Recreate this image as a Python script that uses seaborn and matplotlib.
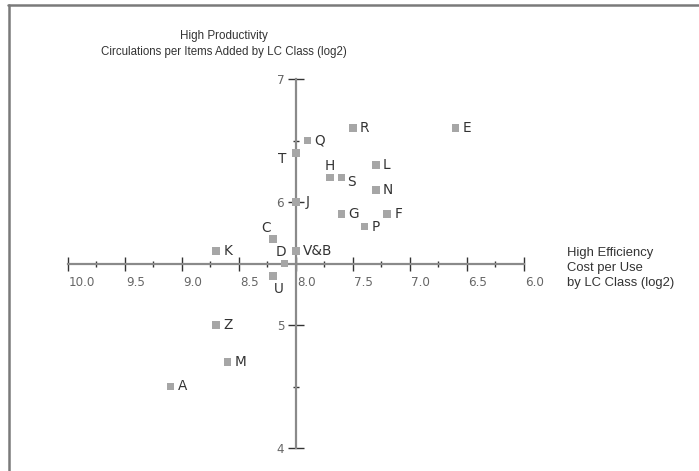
import matplotlib
matplotlib.use("Agg")
import matplotlib.pyplot as plt
import matplotlib.transforms as mtransforms
from matplotlib.lines import Line2D
from matplotlib.ticker import FixedLocator
import seaborn as sns
import pandas as pd

# ---- data ----
classes = ["E", "R", "Q", "T", "H", "S", "L", "N", "J", "G",
           "F", "P", "C", "K", "V&B", "D", "U", "Z", "M", "A"]
cost_per_use = [6.6, 7.5, 7.9, 8.0, 7.7, 7.6, 7.3, 7.3, 8.0, 7.6,
                7.2, 7.4, 8.2, 8.7, 8.0, 8.1, 8.2, 8.7, 8.6, 9.1]
circ_per_item = [6.6, 6.6, 6.5, 6.4, 6.2, 6.2, 6.3, 6.1, 6.0, 5.9,
                 5.9, 5.8, 5.7, 5.6, 5.6, 5.5, 5.4, 5.0, 4.7, 4.5]
x_ticks = [10.0, 9.5, 9.0, 8.5, 8.0, 7.5, 7.0, 6.5, 6.0]
x_tick_labels = ["10.0", "9.5", "9.0", "8.5", "8.0", "7.5", "7.0", "6.5", "6.0"]
y_ticks = [4, 5, 6, 7]
y_tick_labels = ["4", "5", "6", "7"]

df = pd.DataFrame({"cost": cost_per_use, "circ": circ_per_item, "cls": classes})

sns.set_style("white")
plt.rcParams["font.family"] = ["DejaVu Sans"]

fig = plt.figure(figsize=(6.99, 4.71), dpi=100)
ax = fig.add_axes([0, 0, 1, 1])

sns.scatterplot(data=df, x="cost", y="circ", ax=ax, marker="s", s=30,
                color="#a6a6a6", edgecolor="none", linewidth=0, zorder=5)

# pixel mapping: x=8.0 at px 296, 114 px/unit; y=6 at py 202, 123 px/unit
ax.set_xlim(8 + 296 / 114, 8 - 403 / 114)
ax.set_ylim(6 - 269 / 123, 6 + 202 / 123)
ax.set_xlabel("")
ax.set_ylabel("")
ax.patch.set_alpha(0)

for side in ("top", "right"):
    ax.spines[side].set_visible(False)
ax.spines["left"].set_position(("data", 8.0))
ax.spines["bottom"].set_position(("data", 5.5))
ax.spines["left"].set_bounds(4, 7)
ax.spines["bottom"].set_bounds(6, 10)
for side in ("left", "bottom"):
    ax.spines[side].set_color("#8a8a8a")
    ax.spines[side].set_linewidth(1.6)
    ax.spines[side].set_zorder(2)

ax.xaxis.set_major_locator(FixedLocator(x_ticks))
ax.set_xticklabels(x_tick_labels)
ax.xaxis.set_minor_locator(FixedLocator([9.75, 9.25, 8.75, 8.25, 7.75, 7.25, 6.75, 6.25]))
ax.yaxis.set_major_locator(FixedLocator(y_ticks))
ax.set_yticklabels(y_tick_labels)
ax.yaxis.set_minor_locator(FixedLocator([4.5, 6.5]))

ax.tick_params(axis="x", which="major", direction="inout", length=9.5, width=1,
               color="#333333", labelsize=8.6, labelcolor="#666666", pad=4.5)
ax.tick_params(axis="x", which="minor", direction="inout", length=5, width=1,
               color="#333333")
ax.tick_params(axis="y", which="major", direction="inout", length=11, width=1,
               color="#333333", labelsize=8.6, labelcolor="#666666", pad=3)
ax.tick_params(axis="y", which="minor", direction="inout", length=5, width=1,
               color="#333333")
ax.tick_params(bottom=True, left=True, which="both")

shift = mtransforms.ScaledTranslation(0.7 / 72, 0, fig.dpi_scale_trans)
for lab in ax.get_xticklabels():
    lab.set_horizontalalignment("left")
    lab.set_transform(lab.get_transform() + shift)

# point labels: offsets in pixels (dx, dy up), alignment
offsets = {
    "T": (-10, -6, "right", "center"),
    "H": (0, 11, "center", "center"),
    "S": (6, -5, "left", "center"),
    "C": (-2, 11, "right", "center"),
    "D": (-4, 12, "center", "center"),
    "U": (6, -13, "center", "center"),
    "J": (10, 0, "left", "center"),
}
for cx, cy, name in zip(df["cost"], df["circ"], df["cls"]):
    dx, dy, ha, va = offsets.get(name, (7, 0, "left", "center"))
    ax.annotate(name, (cx, cy), xytext=(dx * 0.72, dy * 0.72),
                textcoords="offset points", ha=ha, va=va,
                fontsize=9.8, color="#333333", zorder=6)

# axis titles
ax.text(224 / 699, 1 - 36 / 471, "High Productivity", transform=ax.transAxes,
        ha="center", va="center", fontsize=8.4, color="#333333",
        family=["Liberation Sans"])
ax.text(224 / 699, 1 - 52 / 471, "Circulations per Items Added by LC Class (log2)",
        transform=ax.transAxes, ha="center", va="center", fontsize=8.3,
        color="#333333", family=["Liberation Sans"])
for i, line in enumerate(["High Efficiency", "Cost per Use", "by LC Class (log2)"]):
    ax.text(567 / 699, 1 - (253 + 15 * i) / 471, line, transform=ax.transAxes,
            ha="left", va="center", fontsize=9.4, color="#333333",
            family=["Liberation Sans"])

# partial frame (top and left)
fig.add_artist(Line2D([8 / 699, 1], [1 - 5 / 471, 1 - 5 / 471],
                      transform=fig.transFigure, color="#7a7a7a", linewidth=1.8))
fig.add_artist(Line2D([8.5 / 699, 8.5 / 699], [0, 1 - 5 / 471],
                      transform=fig.transFigure, color="#7a7a7a", linewidth=1.8))

fig.savefig("out.png", dpi=100)
